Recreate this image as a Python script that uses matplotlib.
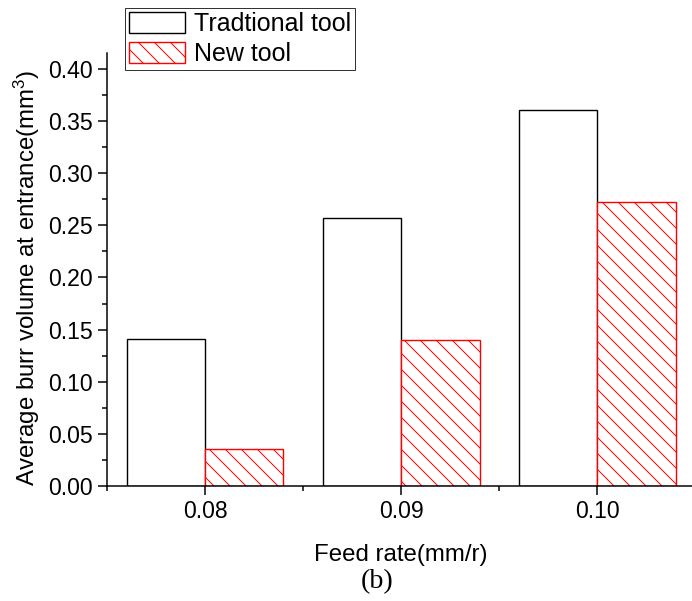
import matplotlib
matplotlib.use("Agg")
import matplotlib.pyplot as plt
import numpy as np

categories = ["0.08", "0.09", "0.10"]
traditional = [0.141, 0.257, 0.360]
new_tool = [0.036, 0.140, 0.272]
series_labels = ["Tradtional tool", "New tool"]
y_ticks = [0.00, 0.05, 0.10, 0.15, 0.20, 0.25, 0.30, 0.35, 0.40]

plt.rcParams['font.family'] = ['Liberation Sans', 'DejaVu Sans']
plt.rcParams['mathtext.default'] = 'regular'
plt.rcParams['hatch.linewidth'] = 0.5

DPI = 144
fig = plt.figure(figsize=(692 / DPI, 601 / DPI), dpi=DPI)
ax = fig.add_axes([107 / 692, 1 - 486.3 / 601, (695.3 - 107) / 692, (486.3 - 53) / 601])

x = np.arange(len(categories))
w = 0.4
b1 = ax.bar(x - w / 2, traditional, width=w, facecolor='white', edgecolor='black',
            linewidth=0.7, label=series_labels[0])
b2 = ax.bar(x + w / 2, new_tool, width=w, facecolor='white', edgecolor='#ff0000',
            linewidth=0.7, hatch='\\\\\\', label=series_labels[1])

ax.set_xlim(-0.5, 2.5)
ax.set_ylim(0, 0.415)
ax.set_yticks(y_ticks)
ax.set_yticklabels([f"{v:.2f}" for v in y_ticks])
ax.set_yticks(np.arange(0.025, 0.415, 0.05), minor=True)
ax.set_xticks(x)
ax.set_xticklabels(categories)
ax.set_xticks([-0.5, 0.5, 1.5], minor=True)

for s in ['top', 'right']:
    ax.spines[s].set_visible(False)
for s in ['left', 'bottom']:
    ax.spines[s].set_linewidth(0.75)

ax.tick_params(axis='both', which='major', direction='out', length=4.5, width=0.75,
               labelsize=11.5, pad=2.5)
ax.tick_params(axis='both', which='minor', direction='out', length=2.5, width=0.75)

ax.set_xlabel("Feed rate(mm/r)", fontsize=12, labelpad=10.5)
ax.set_ylabel("Average burr volume at entrance(mm$^3$)", fontsize=12, labelpad=3)
ax.yaxis.label.set_y(0.482)

leg = fig.legend(handles=[b1, b2], labels=series_labels, loc='upper left',
                 bbox_to_anchor=(125 / 692, 1 - 8 / 601), bbox_transform=fig.transFigure,
                 borderaxespad=0, fontsize=12.5, frameon=True, fancybox=False,
                 handlelength=2.25, handleheight=0.9, handletextpad=0.35,
                 borderpad=0.15, labelspacing=0.25)
leg.get_frame().set_edgecolor('black')
leg.get_frame().set_linewidth(0.5)

fig.text(377 / 692, 1 - 581.5 / 601, "(b)", family=['Liberation Serif', 'DejaVu Serif'],
         fontsize=14, ha='center', va='center')

fig.savefig("out.png", dpi=DPI)
